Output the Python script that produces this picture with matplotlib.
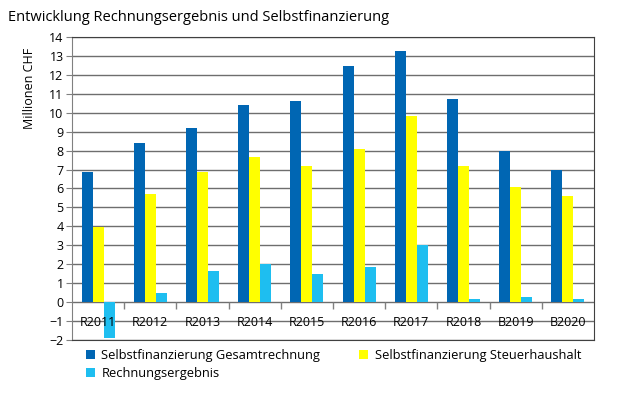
import numpy as np
import matplotlib.pyplot as plt

plt.rcParams['font.family'] = ['Open Sans', 'DejaVu Sans']

years = ['R2011', 'R2012', 'R2013', 'R2014', 'R2015', 'R2016', 'R2017', 'R2018', 'B2019', 'B2020']
sf_gesamt = [6.85, 8.4, 9.2, 10.4, 10.6, 12.45, 13.25, 10.7, 8.0, 7.0]
sf_steuer = [3.95, 5.7, 6.85, 7.65, 7.2, 8.1, 9.85, 7.2, 6.1, 5.6]
rechnung = [-1.9, 0.47, 1.65, 2.0, 1.48, 1.85, 3.0, 0.15, 0.27, 0.16]

names = ['Selbstfinanzierung Gesamtrechnung', 'Selbstfinanzierung Steuerhaushalt', 'Rechnungsergebnis']
colors = ['#0066b3', '#ffff00', '#1ebef0']

fig = plt.figure(figsize=(6.37, 3.97), dpi=100)
ax = fig.add_axes([0.113, 0.1436, 0.8195, 0.7632])

x = np.arange(len(years))
w = 0.21
bars = []
for k, (vals, c, n) in enumerate(zip([sf_gesamt, sf_steuer, rechnung], colors, names)):
    bars.append(ax.bar(x + (k - 1) * w, vals, w, color=c, label=n, zorder=3))

ax.set_xlim(-0.5, len(years) - 0.5)
ax.set_ylim(-2, 14)
ax.set_yticks(range(-2, 15))
ax.grid(axis='y', color='#6e6e6e', lw=1, zorder=1)
for s in ax.spines.values():
    s.set_color('#404040')
    s.set_linewidth(0.8)
ax.spines['left'].set_color('#808080')
ax.tick_params(axis='y', length=4, color='#808080', labelsize=9, pad=2)

# category separators on the zero line and labels below it
ax.set_xticks([])
ax.vlines(np.arange(0.5, len(years) - 1), -0.35, 0, color='#808080', lw=1, zorder=2)
for i, lab in enumerate(years):
    ax.text(i, -1.1, lab, ha='center', va='center', fontsize=9, zorder=4)

ax.set_ylabel('Millionen CHF', fontsize=9)
ax.yaxis.set_label_coords(-0.068, 0.83)

fig.text(0.012, 0.955, 'Entwicklung Rechnungsergebnis und Selbstfinanzierung', fontsize=10.5, va='center')

# column-wise fill: Gesamt / Rechnung in col 1, Steuer in col 2
fig.legend([bars[0], bars[2], bars[1]], [names[0], names[2], names[1]],
           loc='upper left', bbox_to_anchor=(0.135, 0.12), ncol=2, frameon=False,
           fontsize=9.3, handlelength=0.7, handleheight=0.7, handletextpad=0.5,
           columnspacing=3.0, labelspacing=0.35, borderaxespad=0, borderpad=0)

fig.savefig('out.png', dpi=100)
